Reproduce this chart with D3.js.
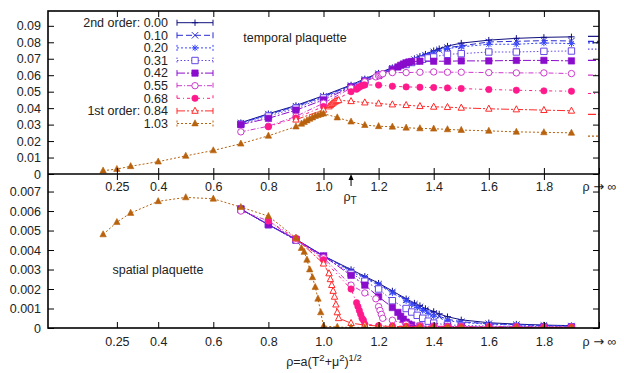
<!DOCTYPE html>
<html>
<head>
<meta charset="utf-8">
<script src="https://cdn.jsdelivr.net/npm/d3@7"></script>
<style>
  html, body { margin: 0; padding: 0; background: #fff; }
  svg { display: block; font-family: "Liberation Sans", Arial, sans-serif; }
</style>
</head>
<body>
<div id="chart"></div>
<script>
// mu values (legend) and line data
const legendLabels = ['2nd order: 0.00', '0.10', '0.20', '0.31', '0.42', '0.55', '0.68', '1st order: 0.84', '1.03'];

const rho000 = [0.7, 0.8, 0.9, 1.0, 1.1, 1.15, 1.2, 1.25, 1.3, 1.33, 1.35, 1.37, 1.4, 1.42, 1.45, 1.5, 1.6, 1.7, 1.8, 1.9];
const temporal000 = [0.0312, 0.0366, 0.0416, 0.0476, 0.0541, 0.0578, 0.0613, 0.0646, 0.0680, 0.0701, 0.0715, 0.0728, 0.0749, 0.0761, 0.0777, 0.0795, 0.0813, 0.0824, 0.0830, 0.0833];
const spatial000 = [0.0061, 0.0053, 0.00455, 0.0037, 0.0030, 0.00265, 0.0023, 0.0019, 0.0015, 0.00128, 0.00115, 0.0010, 0.00085, 0.00072, 0.00058, 0.00042, 0.00027, 0.0002, 0.00015, 0.00012];

const rho010 = [0.7, 0.8, 0.9, 1.0, 1.1, 1.15, 1.2, 1.25, 1.3, 1.33, 1.35, 1.37, 1.4, 1.42, 1.45, 1.5, 1.6, 1.7, 1.8, 1.9];
const temporal010 = [0.0309, 0.0364, 0.0412, 0.0472, 0.0537, 0.0574, 0.0609, 0.0642, 0.0675, 0.0695, 0.0708, 0.0722, 0.0742, 0.0754, 0.0768, 0.0778, 0.0802, 0.0806, 0.0810, 0.0808];
const spatial010 = [0.0061, 0.0053, 0.00453, 0.0037, 0.00295, 0.0026, 0.00225, 0.00185, 0.00145, 0.00122, 0.00108, 0.00093, 0.00075, 0.0006, 0.00045, 0.00032, 0.00022, 0.00017, 0.00013, 0.0001];

const rho020 = [0.7, 0.8, 0.9, 1.0, 1.1, 1.15, 1.2, 1.25, 1.3, 1.32, 1.34, 1.36, 1.38, 1.4, 1.45, 1.5, 1.6, 1.7, 1.8, 1.9];
const temporal020 = [0.0306, 0.0360, 0.0408, 0.0468, 0.0534, 0.0571, 0.0606, 0.0640, 0.0672, 0.0685, 0.0698, 0.0710, 0.0722, 0.0735, 0.0762, 0.0772, 0.0788, 0.0788, 0.0796, 0.0792];
const spatial020 = [0.0061, 0.0053, 0.0045, 0.00368, 0.0029, 0.00255, 0.0022, 0.0018, 0.0014, 0.00122, 0.00105, 0.0009, 0.00075, 0.0006, 0.00038, 0.00028, 0.0002, 0.00015, 0.00012, 0.0001];

const rho031 = [0.7, 0.8, 0.9, 1.0, 1.1, 1.15, 1.2, 1.25, 1.3, 1.32, 1.34, 1.36, 1.38, 1.4, 1.45, 1.5, 1.6, 1.7, 1.8, 1.9];
const temporal031 = [0.0303, 0.0352, 0.0400, 0.0462, 0.0530, 0.0567, 0.0602, 0.0636, 0.0665, 0.0677, 0.0688, 0.0697, 0.0705, 0.0711, 0.0727, 0.0731, 0.0741, 0.0741, 0.0745, 0.0747];
const spatial031 = [0.0061, 0.0053, 0.0045, 0.00365, 0.0028, 0.0024, 0.0020, 0.0014, 0.0010, 0.00082, 0.00065, 0.0005, 0.00035, 0.00025, 0.00016, 0.00013, 0.0001, 0.00008, 0.00007, 0.00006];

const rho042 = [0.7, 0.8, 0.9, 1.0, 1.1, 1.15, 1.2, 1.25, 1.27, 1.28, 1.29, 1.3, 1.31, 1.32, 1.35, 1.4, 1.45, 1.5, 1.6, 1.7, 1.8, 1.9];
const temporal042 = [0.0300, 0.0338, 0.0388, 0.0450, 0.0528, 0.0563, 0.0598, 0.0635, 0.0650, 0.0660, 0.0668, 0.0675, 0.0680, 0.0683, 0.0685, 0.0685, 0.0685, 0.0687, 0.0687, 0.0690, 0.0690, 0.0687];
const spatial042 = [0.0061, 0.0053, 0.00455, 0.0037, 0.0027, 0.0022, 0.0016, 0.00105, 0.0008, 0.0006, 0.00045, 0.0003, 0.0002, 0.00015, 0.0001, 0.00008, 0.00007, 0.00006, 0.00005, 0.00005, 0.00004, 0.00004];

const rho055 = [0.7, 0.8, 0.9, 1.0, 1.1, 1.15, 1.19, 1.2, 1.205, 1.21, 1.215, 1.25, 1.3, 1.35, 1.4, 1.45, 1.5, 1.6, 1.7, 1.8, 1.9];
const temporal055 = [0.0256, 0.0290, 0.0350, 0.0430, 0.0522, 0.0560, 0.0590, 0.0597, 0.0601, 0.0605, 0.0609, 0.0616, 0.0616, 0.0618, 0.0620, 0.0618, 0.0618, 0.0616, 0.0614, 0.0614, 0.0610];
const spatial055 = [0.0060, 0.0055, 0.0045, 0.0036, 0.0022, 0.0018, 0.0015, 0.0011, 0.0009, 0.0007, 0.0005, 0.0004, 0.0002, 0.00012, 0.0001, 0.00008, 0.00007, 0.00006, 0.00006, 0.00005, 0.00005];

const rho068 = [0.8, 0.9, 1.0, 1.1, 1.12, 1.125, 1.13, 1.135, 1.14, 1.145, 1.15, 1.2, 1.25, 1.3, 1.35, 1.4, 1.45, 1.5, 1.6, 1.7, 1.8, 1.9];
const temporal068 = [0.0287, 0.0340, 0.0410, 0.0500, 0.0515, 0.0522, 0.0528, 0.0533, 0.0537, 0.0540, 0.0541, 0.0540, 0.0533, 0.0529, 0.0527, 0.0525, 0.0523, 0.0519, 0.0513, 0.0509, 0.0505, 0.0503];
const spatial068 = [0.0055, 0.0046, 0.0035, 0.0020, 0.0013, 0.0011, 0.0009, 0.0007, 0.0005, 0.0004, 0.0002, 0.00012, 0.0001, 0.00009, 0.00008, 0.00007, 0.00006, 0.00006, 0.00005, 0.00005, 0.00004, 0.00004];

const rho084 = [0.9, 1.0, 1.02, 1.025, 1.03, 1.035, 1.04, 1.045, 1.05, 1.055, 1.1, 1.15, 1.2, 1.25, 1.3, 1.35, 1.4, 1.45, 1.5, 1.6, 1.7, 1.8, 1.9];
const temporal084 = [0.0330, 0.0390, 0.0410, 0.0418, 0.0425, 0.0432, 0.0438, 0.0442, 0.0446, 0.0448, 0.0442, 0.0434, 0.0428, 0.0422, 0.0418, 0.0412, 0.0408, 0.0406, 0.0402, 0.0396, 0.0392, 0.0388, 0.0384];
const spatial084 = [0.0046, 0.0033, 0.0028, 0.0025, 0.0022, 0.0019, 0.0016, 0.0012, 0.0008, 0.0005, 0.00025, 0.00015, 0.0001, 0.00008, 0.00007, 0.00006, 0.00005, 0.00005, 0.00004, 0.00004, 0.00003, 0.00003, 0.00003];

const rho103 = [0.2, 0.25, 0.3, 0.4, 0.5, 0.6, 0.7, 0.8, 0.9, 0.92, 0.93, 0.94, 0.95, 0.96, 0.97, 0.98, 0.99, 1.0, 1.05, 1.1, 1.15, 1.2, 1.25, 1.3, 1.35, 1.4, 1.45, 1.5, 1.6, 1.7, 1.8, 1.9];
const temporal103 = [0.0020, 0.0030, 0.0047, 0.0075, 0.0110, 0.0143, 0.0184, 0.0232, 0.0288, 0.0305, 0.0315, 0.0325, 0.0335, 0.0343, 0.0352, 0.0358, 0.0363, 0.0367, 0.0343, 0.0318, 0.0297, 0.0290, 0.0287, 0.0281, 0.0277, 0.0275, 0.0271, 0.0267, 0.0262, 0.0256, 0.0253, 0.0250];
const spatial103 = [0.0048, 0.00543, 0.0059, 0.0065, 0.0067, 0.00663, 0.0062, 0.00574, 0.00462, 0.0041, 0.0039, 0.0035, 0.0030, 0.0026, 0.0021, 0.0015, 0.0008, 0.0001, 0.00005, 0.00003, 0.00003, 0.00002, 0.00002, 0.00002, 0.00002, 0.00002, 0.00002, 0.00002, 0.00002, 0.00002, 0.00002, 0.00002];

// rho -> infinity limits of the temporal plaquette
const temporalInf = [0.0836, 0.0806, 0.0796, 0.0758, 0.0690, 0.0600, 0.0489, 0.0362, 0.0230];

const xTickValues = [0.25, 0.4, 0.6, 0.8, 1.0, 1.2, 1.4, 1.6, 1.8, 2.0];
const xTickLabels = ['0.25', '0.4', '0.6', '0.8', '1.0', '1.2', '1.4', '1.6', '1.8', 'ρ → ∞'];
const yTopTicks = [0, 0.01, 0.02, 0.03, 0.04, 0.05, 0.06, 0.07, 0.08, 0.09];
const yBotTicks = [0, 0.001, 0.002, 0.003, 0.004, 0.005, 0.006, 0.007];
const rhoT = 1.1;

// styles
const colors = ['#10107e', '#2a2ad2', '#3646ff', '#6446e6', '#8a0ccc', '#cc3acc', '#ff1a8c', '#ff2a2a', '#b8620e'];
const dashes = [null, '6,3', '2,2', '1.5,2', '8,2,2,2', '5,2,1,2', '3,3,1,3', '8,2,2,2', '2,2'];
const markers = ['plus', 'cross', 'star', 'squareOpen', 'squareFilled', 'circleOpen', 'circleFilled', 'triangleOpen', 'triangleFilled'];

const series = [
  [rho000, temporal000, spatial000],
  [rho010, temporal010, spatial010],
  [rho020, temporal020, spatial020],
  [rho031, temporal031, spatial031],
  [rho042, temporal042, spatial042],
  [rho055, temporal055, spatial055],
  [rho068, temporal068, spatial068],
  [rho084, temporal084, spatial084],
  [rho103, temporal103, spatial103],
].map(([rho, t, s], i) => ({
  label: legendLabels[i],
  color: colors[i],
  dash: dashes[i],
  marker: markers[i],
  inf: temporalInf[i],
  temporal: rho.map((r, j) => ({ x: r, y: t[j] })),
  spatial: rho.map((r, j) => ({ x: r, y: s[j] })),
}));

const width = 624;
const height = 373;
const frame = { left: 48, right: 599, top: 11, mid: 174, bottom: 328 };
const fontSize = 12.5;

const svg = d3.select('#chart').append('svg')
  .attr('width', width)
  .attr('height', height)
  .attr('viewBox', `0 0 ${width} ${height}`);

const x = d3.scaleLinear().domain([0, 2]).range([frame.left, frame.right]);
const yTop = d3.scaleLinear().domain([0, 0.099]).range([frame.mid, frame.top]);
const yBot = d3.scaleLinear().domain([0, 0.0079]).range([frame.bottom, frame.mid]);

const defs = svg.append('defs');
defs.append('clipPath').attr('id', 'clip-top')
  .append('rect').attr('x', frame.left).attr('y', frame.top)
  .attr('width', frame.right - frame.left).attr('height', frame.mid - frame.top);
defs.append('clipPath').attr('id', 'clip-bot')
  .append('rect').attr('x', frame.left).attr('y', frame.mid)
  .attr('width', frame.right - frame.left).attr('height', frame.bottom - frame.mid);

function markerPath(type, s) {
  switch (type) {
    case 'plus': return `M${-s},0H${s}M0,${-s}V${s}`;
    case 'cross': return `M${-s},${-s}L${s},${s}M${-s},${s}L${s},${-s}`;
    case 'star': {
      const d = s * 0.75;
      return `M${-s},0H${s}M0,${-s}V${s}M${-d},${-d}L${d},${d}M${-d},${d}L${d},${-d}`;
    }
    case 'squareOpen':
    case 'squareFilled': return `M${-s},${-s}H${s}V${s}H${-s}Z`;
    case 'circleOpen':
    case 'circleFilled': return `M${s},0A${s},${s} 0 1,1 ${-s},0A${s},${s} 0 1,1 ${s},0Z`;
    default: return `M0,${-s * 1.15}L${s},${s * 0.75}L${-s},${s * 0.75}Z`;
  }
}

function styleMarker(sel, d) {
  const filled = /Filled/.test(d.marker);
  const lineOnly = ['plus', 'cross', 'star'].includes(d.marker);
  sel.attr('fill', filled ? d.color : (lineOnly ? 'none' : '#fff'))
    .attr('stroke', d.color)
    .attr('stroke-width', filled ? 0.6 : 1);
}

function drawPanel(key, y, clipId) {
  const g = svg.append('g').attr('clip-path', `url(#${clipId})`);
  const line = d3.line().x(d => x(d.x)).y(d => y(d.y));

  series.forEach(d => {
    g.append('path')
      .datum(d[key])
      .attr('fill', 'none')
      .attr('stroke', d.color)
      .attr('stroke-width', 1)
      .attr('stroke-dasharray', d.dash)
      .attr('d', line);

    g.selectAll(null)
      .data(d[key])
      .join('path')
      .attr('transform', p => `translate(${x(p.x)},${y(p.y)})`)
      .attr('d', markerPath(d.marker, 3.2))
      .call(styleMarker, d);
  });
}

drawPanel('temporal', yTop, 'clip-top');
drawPanel('spatial', yBot, 'clip-bot');

// short segments at rho -> infinity
svg.append('g').selectAll('line')
  .data(series)
  .join('line')
  .attr('x1', x(1.96)).attr('x2', x(2.0))
  .attr('y1', d => yTop(d.inf)).attr('y2', d => yTop(d.inf))
  .attr('stroke', d => d.color)
  .attr('stroke-width', 1.2)
  .attr('stroke-dasharray', d => d.dash);

// axes
const fmtTop = d => d === 0 ? '0' : d3.format('.2f')(d);
const fmtBot = d => d === 0 ? '0' : d3.format('.3f')(d);
const fmtX = d => xTickLabels[xTickValues.indexOf(d)];

function addAxis(axis, tx, ty) {
  const g = svg.append('g')
    .attr('transform', `translate(${tx},${ty})`)
    .call(axis);
  g.select('.domain').remove();
  g.selectAll('.tick line').attr('stroke', '#000').attr('stroke-width', 1);
  g.selectAll('.tick text')
    .attr('fill', '#222')
    .style('font-family', '"Liberation Sans", Arial, sans-serif')
    .style('font-size', `${fontSize}px`);
  return g;
}

// the infinity label gets a wider arrow glyph
function widenArrow(g) {
  g.selectAll('.tick text')
    .filter(d => d === 2.0)
    .each(function () {
      const parts = d3.select(this).text().split(' ');
      const t = d3.select(this).text(null);
      t.append('tspan').text(parts[0] + ' ');
      t.append('tspan').style('font-family', '"DejaVu Sans", sans-serif').style('font-size', '13px').text(parts[1]);
      t.append('tspan').text(' ' + parts[2]);
    });
}

addAxis(d3.axisLeft(yTop).tickValues(yTopTicks).tickFormat(fmtTop).tickSize(-6).tickPadding(7), frame.left, 0);
addAxis(d3.axisRight(yTop).tickValues(yTopTicks).tickFormat('').tickSize(-6), frame.right, 0);
addAxis(d3.axisLeft(yBot).tickValues(yBotTicks).tickFormat(fmtBot).tickSize(-6).tickPadding(7), frame.left, 0);
addAxis(d3.axisRight(yBot).tickValues(yBotTicks).tickFormat('').tickSize(-6), frame.right, 0);

addAxis(d3.axisTop(x).tickValues(xTickValues.slice(0, -1)).tickFormat('').tickSize(-6), 0, frame.top);
addAxis(d3.axisBottom(x).tickValues(xTickValues).tickFormat(fmtX).tickSize(-6).tickPadding(8), 0, frame.mid).call(widenArrow);
addAxis(d3.axisTop(x).tickValues(xTickValues.slice(0, -1)).tickFormat('').tickSize(-6), 0, frame.mid);
addAxis(d3.axisBottom(x).tickValues(xTickValues).tickFormat(fmtX).tickSize(-6).tickPadding(9.5), 0, frame.bottom).call(widenArrow);

// frames
svg.append('rect')
  .attr('x', frame.left).attr('y', frame.top)
  .attr('width', frame.right - frame.left).attr('height', frame.bottom - frame.top)
  .attr('fill', 'none').attr('stroke', '#000').attr('stroke-width', 1.6);
svg.append('line')
  .attr('x1', frame.left).attr('x2', frame.right).attr('y1', frame.mid).attr('y2', frame.mid)
  .attr('stroke', '#000').attr('stroke-width', 1.6);

// legend
const legendX = 168, legendY = 22.7, legendStep = 12.6;
const legend = svg.append('g')
  .selectAll('g')
  .data(series)
  .join('g')
  .attr('transform', (d, i) => `translate(0,${legendY + i * legendStep})`);

legend.append('text')
  .attr('x', legendX)
  .attr('dy', '0.35em')
  .attr('text-anchor', 'end')
  .attr('fill', '#222')
  .style('font-size', `${fontSize}px`)
  .text(d => d.label);

legend.append('path')
  .attr('d', 'M177,0H213M177,-3V3M213,-3V3')
  .attr('fill', 'none')
  .attr('stroke', d => d.color)
  .attr('stroke-width', 1)
  .attr('stroke-dasharray', d => d.dash);

legend.append('path')
  .attr('transform', 'translate(195,0)')
  .attr('d', d => markerPath(d.marker, 3.2))
  .each(function (d) { d3.select(this).call(styleMarker, d); });

// panel titles
svg.append('text')
  .attr('x', 295).attr('y', 38).attr('dy', '0.35em')
  .attr('text-anchor', 'middle').attr('fill', '#222')
  .style('font-size', `${fontSize}px`)
  .text('temporal plaquette');

svg.append('text')
  .attr('x', 158).attr('y', 270).attr('dy', '0.35em')
  .attr('text-anchor', 'middle').attr('fill', '#222')
  .style('font-size', `${fontSize}px`)
  .text('spatial plaquette');

// rho_T marker
svg.append('line')
  .attr('x1', x(rhoT)).attr('x2', x(rhoT))
  .attr('y1', 186).attr('y2', 178)
  .attr('stroke', '#000').attr('stroke-width', 1);
svg.append('path')
  .attr('d', `M${x(rhoT)},${frame.mid}l-2.5,6h5Z`)
  .attr('fill', '#000');

const rhoLabel = svg.append('text')
  .attr('x', x(rhoT) - 1).attr('y', 201)
  .attr('text-anchor', 'middle').attr('fill', '#222')
  .style('font-size', `${fontSize}px`);
rhoLabel.append('tspan').text('ρ');
rhoLabel.append('tspan').attr('dy', 3).style('font-size', '10px').text('T');

// x axis label
const xLabel = svg.append('text')
  .attr('x', 324).attr('y', 366)
  .attr('text-anchor', 'middle').attr('fill', '#222')
  .style('font-size', `${fontSize}px`);
xLabel.append('tspan').text('ρ=a(T');
xLabel.append('tspan').attr('dy', -5).style('font-size', '9.5px').text('2');
xLabel.append('tspan').attr('dy', 5).text('+μ');
xLabel.append('tspan').attr('dy', -5).style('font-size', '9.5px').text('2');
xLabel.append('tspan').attr('dy', 5).text(')');
xLabel.append('tspan').attr('dy', -5).style('font-size', '9.5px').text('1/2');
</script>
</body>
</html>
